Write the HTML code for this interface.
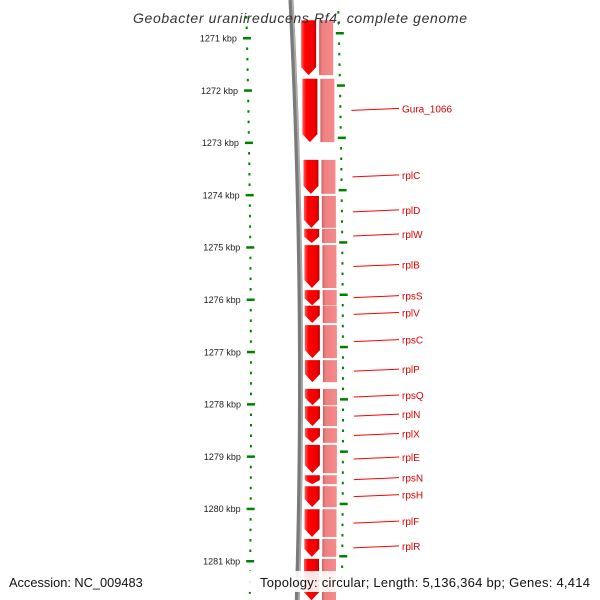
<!DOCTYPE html>
<html><head><meta charset="utf-8"><style>
body{margin:0;background:#fff;width:600px;height:600px;overflow:hidden}
svg{display:block;font-family:"Liberation Sans",sans-serif}
</style></head><body>
<svg id="map" width="600" height="600" viewBox="0 0 600 600">
<defs>
<linearGradient id="gRed" x1="0" x2="1" y1="0" y2="0"><stop offset="0" stop-color="#ff5a5a"/><stop offset="0.25" stop-color="#ff0000"/><stop offset="0.8" stop-color="#f00000"/><stop offset="1" stop-color="#c00000"/></linearGradient>
<linearGradient id="gPink" x1="0" x2="1" y1="0" y2="0"><stop offset="0" stop-color="#c86060"/><stop offset="0.2" stop-color="#f08080"/><stop offset="1" stop-color="#f58a8a"/></linearGradient>
</defs>
<g id="backbone"></g>
<g id="ticks"></g>
<g id="genes"></g>
<g id="labels"></g>
<text x="300" y="23" text-anchor="middle" font-size="14" font-style="italic" fill="#333" textLength="334">Geobacter uraniireducens Rf4, complete genome</text>
<rect x="0" y="571" width="600" height="21" fill="#fff" opacity="0.9"/>
<text x="9" y="587" font-size="12.8" fill="#111">Accession: NC_009483</text>
<text x="260" y="587" font-size="13" fill="#111" textLength="330">Topology: circular; Length: 5,136,364 bp; Genes: 4,414</text>
</svg>
<script>
const tickLabels = [1271,1272,1273,1274,1275,1276,1277,1278,1279,1280,1281];
const geneStart = [1270.66,1271.78,1273.33,1274.02,1274.65,1274.96,1275.82,1276.12,1276.49,1277.16,1277.71,1278.04,1278.46,1278.78,1279.36,1279.57,1280.01,1280.58,1280.96];
const geneEnd   = [1271.71,1272.99,1273.98,1274.63,1274.92,1275.78,1276.11,1276.45,1277.12,1277.58,1278.02,1278.42,1278.74,1279.32,1279.53,1279.97,1280.54,1280.92,1281.75];
const geneNames = ["","Gura_1066","rplC","rplD","rplW","rplB","rpsS","rplV","rpsC","rplP","rpsQ","rplN","rplX","rplE","rpsN","rpsH","rplF","rplR",""];

const NS="http://www.w3.org/2000/svg";
function yOf(k){return 38+(k-1271)*52.3;}
function off(y){return 5-3.1e-5*(y-400)*(y-400);}
function bbx(y){return 300.5-6.6e-5*(y-380)*(y-380);}
function mk(tag,attrs,parent){const e=document.createElementNS(NS,tag);for(const a in attrs)e.setAttribute(a,attrs[a]);parent.appendChild(e);return e;}
const bb=document.getElementById('backbone'),tk=document.getElementById('ticks'),gn=document.getElementById('genes'),lb=document.getElementById('labels');

let pts=[];for(let y=0;y<=600;y+=10)pts.push(bbx(y)+","+y);
const bl=mk('path',{d:"M"+pts.join(" L"),stroke:'#7a7a7a','stroke-width':5,fill:'none'},bb);


const bh=mk('path',{d:"M"+pts.map(p=>{const [x,y]=p.split(',');return (+x+1.5)+','+y;}).join(" L"),stroke:'#b0b0b0','stroke-width':1.5,fill:'none'},bb);



for(let k=1270.6;k<=1281.8;k+=0.2){
  const kk=Math.round(k*5)/5;
  const major=Math.abs(kk-Math.round(kk))<0.01;
  const y=yOf(kk);
  const xl=246+off(y), yr=y-5, xr=338+off(yr);
  const w=major?8:2;
  const t1=mk('rect',{x:xl-w/2,y:y-1,width:w,height:2.5,fill:'#008000'},tk);
  
  
  const t2=mk('rect',{x:xr-(major?3:1),y:yr-1,width:w,height:2.5,fill:'#008000'},tk);
  
  
}
tickLabels.forEach(k=>{
  const y=yOf(k);
  const t=mk('text',{x:236+off(y),y:y+3.5,'text-anchor':'end','font-size':9,fill:'#222'},tk);
  t.textContent=k+" kbp";
  
  
});

geneStart.forEach((s,i)=>{
  const y0=yOf(s), y1=yOf(geneEnd[i]);
  const xm=off((y0+y1)/2);
  const x0=300+xm, x1=315+xm;
  const tip=Math.min(8,(y1-y0)*0.45);
  const g=mk('polygon',{points:`${x0},${y0} ${x1},${y0} ${x1},${y1-tip} ${(x0+x1)/2},${y1} ${x0},${y1-tip}`,fill:'url(#gRed)'},gn);
  
  
  const p=mk('rect',{x:318+xm,y:y0,width:14,height:y1-y0,fill:'url(#gPink)'},gn);
  
  
  if(geneNames[i]){
    const ym=(y0+y1)/2, ly=ym-2;
    const ln=mk('line',{x1:349+off(ym),y1:ym,x2:399,y2:ly,stroke:'#f00','stroke-width':1},lb);
    
    
    const t=mk('text',{x:402,y:ly+4,'font-size':10,fill:'#e00000'},lb);
    t.textContent=geneNames[i];
    
    
  }
});
</script>
</body></html>
